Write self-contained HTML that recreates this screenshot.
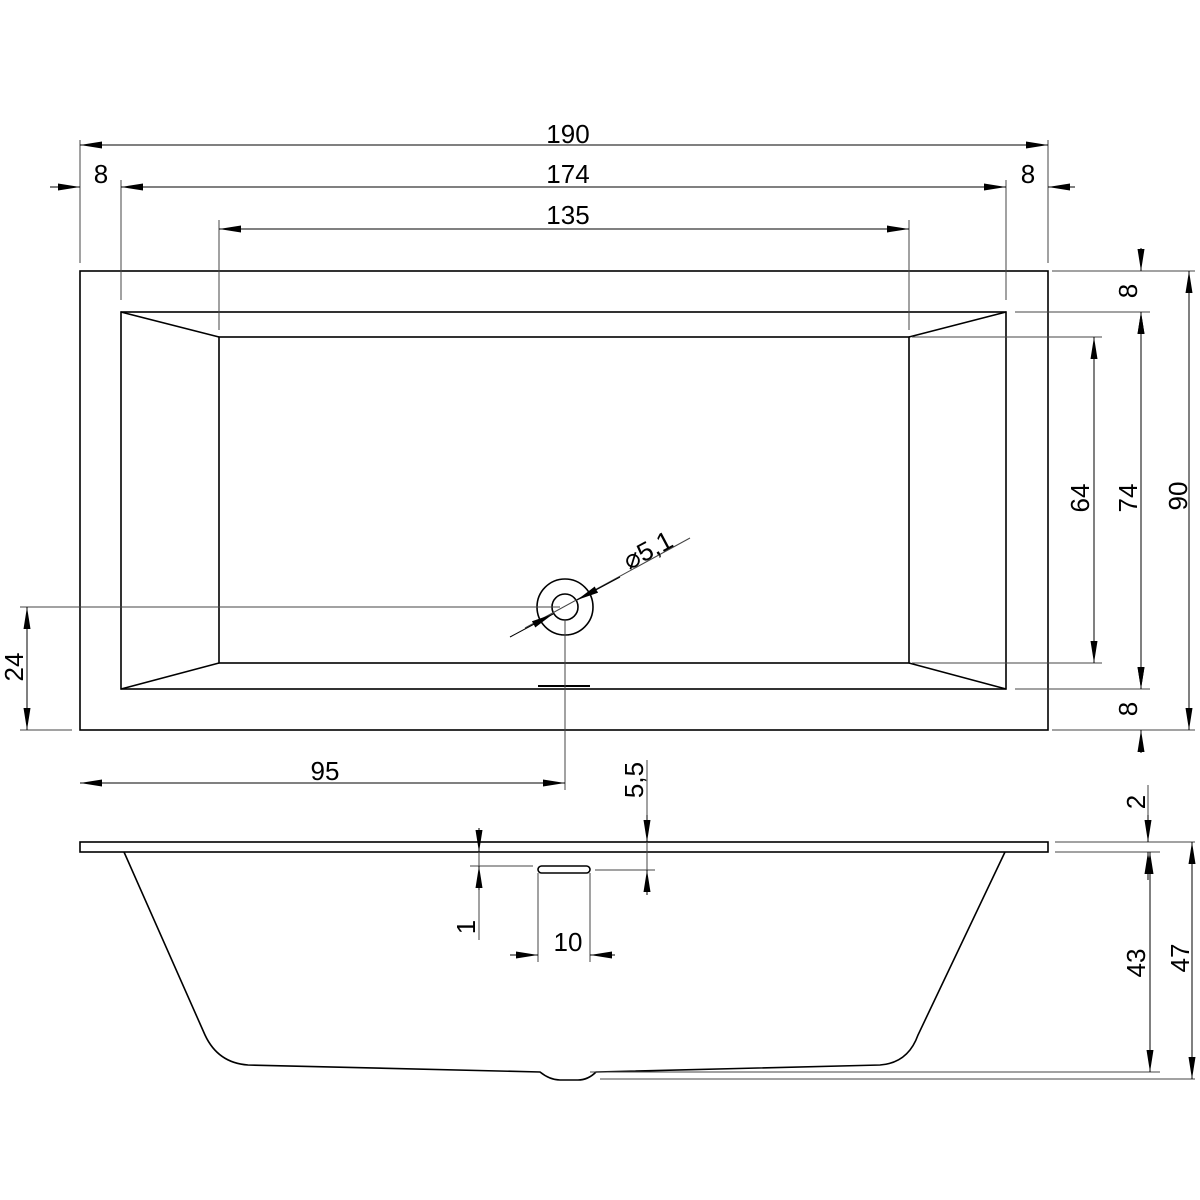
<!DOCTYPE html>
<html><head><meta charset="utf-8"><style>html,body{margin:0;padding:0;background:#fff}svg{display:block}text{font-family:"Liberation Sans",sans-serif;font-size:26px;fill:#000}</style></head><body>
<svg width="1200" height="1200" viewBox="0 0 1200 1200" xmlns="http://www.w3.org/2000/svg">
<defs>
<marker id="a" markerUnits="userSpaceOnUse" markerWidth="24" markerHeight="10" refX="22" refY="3.5" orient="auto-start-reverse"><path d="M0,0 L22,3.5 L0,7z" fill="#000"/></marker>
</defs>
<g fill="none" stroke="#000" stroke-width="1.6">
<rect x="80" y="271" width="968" height="459"/>
<rect x="121" y="312" width="885" height="377"/>
<rect x="219" y="337" width="690" height="326"/>
<path d="M121,312 L219,337 M1006,312 L909,337 M121,689 L219,663 M1006,689 L909,663"/>
<circle cx="565" cy="607" r="28"/>
<circle cx="565" cy="607" r="13"/>
<path d="M538,686 H590" stroke-width="2"/>
<rect x="80" y="842" width="968" height="10"/>
<path d="M124,852 L205,1035 Q218,1063 248,1065 L540,1072 Q550,1080 560,1080 L578,1080 Q588,1080 596,1072 L880,1065 Q908,1063 918,1035 L1005,852"/>
<rect x="538" y="866" width="52" height="7" rx="3.5"/>
</g>
<g fill="none" stroke="#444" stroke-width="1">
<path d="M80,140 V263 M1048,140 V263 M121,180 V300 M1006,180 V300 M219,220 V330 M909,220 V330"/>
<path d="M1052,271 H1195 M1015,312 H1150 M912,337 H1102 M912,663 H1102 M1015,689 H1150 M1052,730 H1195"/>
<path d="M20,607 H560 M20,730 H72 M565,620 V790"/>
<path d="M1055,842 H1195 M1055,852 H1160 M590,1072 H1160 M600,1079 H1195"/>
<path d="M595,870 H655 M470,866 H533 M538,873 V962 M590,873 V962"/>
<path d="M50,187 H80 M1075,187 H1048 M1141,248 V271 M1141,753 V730 M1148,785 V842 M479,838 V940 M647,760 V895 M510,955 H538 M615,955 H590"/>
<path d="M525,628 L690,538"/>
</g>
<g stroke="#000" stroke-width="1" marker-end="url(#a)" marker-start="url(#a)">
<line x1="80" y1="145" x2="1048" y2="145"/>
<line x1="121" y1="187" x2="1006" y2="187"/>
<line x1="219" y1="229" x2="909" y2="229"/>
<line x1="1141" y1="312" x2="1141" y2="689"/>
<line x1="1189" y1="271" x2="1189" y2="730"/>
<line x1="1094" y1="337" x2="1094" y2="663"/>
<line x1="27" y1="607" x2="27" y2="730"/>
<line x1="80" y1="783" x2="565" y2="783"/>
<line x1="1150" y1="852" x2="1150" y2="1072"/>
<line x1="1192" y1="842" x2="1192" y2="1079"/>
</g>
<g stroke="#000" stroke-width="1" marker-end="url(#a)">
<line x1="50" y1="187" x2="80" y2="187"/>
<line x1="1075" y1="187" x2="1048" y2="187"/>
<line x1="1141" y1="248" x2="1141" y2="271"/>
<line x1="1141" y1="335" x2="1141" y2="312"/>
<line x1="1141" y1="666" x2="1141" y2="689"/>
<line x1="1141" y1="753" x2="1141" y2="730"/>
<line x1="1148" y1="815" x2="1148" y2="842"/>
<line x1="1148" y1="880" x2="1148" y2="852"/>
<line x1="647" y1="815" x2="647" y2="842"/>
<line x1="647" y1="895" x2="647" y2="870"/>
<line x1="479" y1="828" x2="479" y2="852"/>
<line x1="479" y1="890" x2="479" y2="866"/>
<line x1="510" y1="955" x2="538" y2="955"/>
<line x1="615" y1="955" x2="590" y2="955"/>
<line x1="510" y1="637" x2="553" y2="614"/>
<line x1="620" y1="577" x2="577" y2="600"/>
</g>
<g text-anchor="middle">
<text x="568" y="143">190</text>
<text x="101" y="183">8</text>
<text x="568" y="183">174</text>
<text x="1028" y="183">8</text>
<text x="568" y="224">135</text>
<text x="325" y="780">95</text>
<text x="568" y="951">10</text>
<text transform="translate(1137,291) rotate(-90)">8</text>
<text transform="translate(1137,709) rotate(-90)">8</text>
<text transform="translate(1089,498) rotate(-90)">64</text>
<text transform="translate(1137,498) rotate(-90)">74</text>
<text transform="translate(1187,496) rotate(-90)">90</text>
<text transform="translate(23,667) rotate(-90)">24</text>
<text transform="translate(643,780) rotate(-90)">5,5</text>
<text transform="translate(475,927) rotate(-90)">1</text>
<text transform="translate(1145,802) rotate(-90)">2</text>
<text transform="translate(1145,963) rotate(-90)">43</text>
<text transform="translate(1189,958) rotate(-90)">47</text>
<text transform="translate(652,558) rotate(-28)">⌀5,1</text>
</g>
</svg>
</body></html>
